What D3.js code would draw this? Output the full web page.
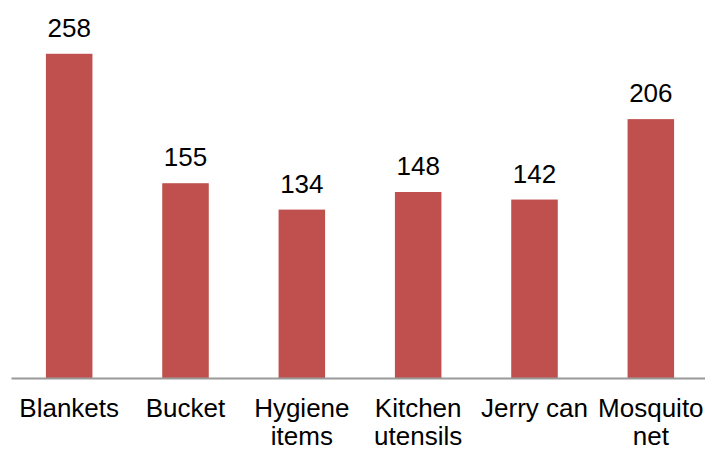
<!DOCTYPE html>
<html lang="en">
<head>
    <meta charset="UTF-8">
    <title>Relief items</title>
    <script src="https://d3js.org/d3.v7.min.js"></script>
    <style>
        body { margin: 0; background: #fff; }
        text { font-family: "Liberation Sans", Arial, sans-serif; }
    </style>
</head>
<body>
    <svg width="705" height="451"></svg>

    <script>
        // Chart data
        const categories = ["Blankets", "Bucket", "Hygiene items", "Kitchen utensils", "Jerry can", "Mosquito net"];
        const counts = [258, 155, 134, 148, 142, 206];

        const svg = d3.select("svg");
        const baseline = 378;

        // Scales
        const xScale = d3.scaleBand()
                         .domain(categories)
                         .range([11, 709])
                         .paddingInner(0.6)
                         .paddingOuter(0.3);

        const yScale = d3.scaleLinear()
                         .domain([0, 300])
                         .range([baseline, 1]);

        // Bars
        svg.selectAll("rect.bar")
           .data(categories)
           .enter()
           .append("rect")
           .attr("class", "bar")
           .attr("x", d => xScale(d))
           .attr("y", (d, i) => yScale(counts[i]))
           .attr("width", xScale.bandwidth())
           .attr("height", (d, i) => baseline - yScale(counts[i]))
           .attr("fill", "#C0504D");

        // Value labels
        svg.selectAll("text.value")
           .data(categories)
           .enter()
           .append("text")
           .attr("class", "value")
           .attr("x", d => xScale(d) + xScale.bandwidth() / 2)
           .attr("y", (d, i) => yScale(counts[i]) - 17)
           .attr("text-anchor", "middle")
           .style("font-size", "26px")
           .attr("fill", "#000")
           .text((d, i) => counts[i]);

        // X axis (line only, no ticks)
        const axis = svg.append("g")
           .attr("transform", `translate(0, ${baseline})`)
           .call(d3.axisBottom(xScale).tickSize(0).tickFormat(""));
        axis.select(".domain").attr("stroke", "#999").attr("stroke-width", 2);
        axis.selectAll(".tick").remove();

        // Category labels, wrapped to the band step
        const maxW = xScale.step() - 2;
        const labels = svg.selectAll("text.cat")
           .data(categories)
           .enter()
           .append("text")
           .attr("class", "cat")
           .attr("text-anchor", "middle")
           .style("font-size", "26px")
           .attr("fill", "#000");

        labels.each(function(d) {
            const t = d3.select(this);
            const cx = xScale(d) + xScale.bandwidth() / 2;
            const words = d.split(" ");
            let lines = [], line = [];
            let tspan = t.append("tspan").attr("x", cx).attr("y", 417);
            words.forEach(w => {
                line.push(w);
                tspan.text(line.join(" "));
                if (tspan.node().getComputedTextLength() > maxW && line.length > 1) {
                    line.pop();
                    lines.push(line.join(" "));
                    line = [w];
                    tspan.text(w);
                }
            });
            lines.push(line.join(" "));
            tspan.remove();
            lines.forEach((l, i) => {
                t.append("tspan").attr("x", cx).attr("y", 417 + i * 28).text(l);
            });
        });
    </script>
</body>
</html>
